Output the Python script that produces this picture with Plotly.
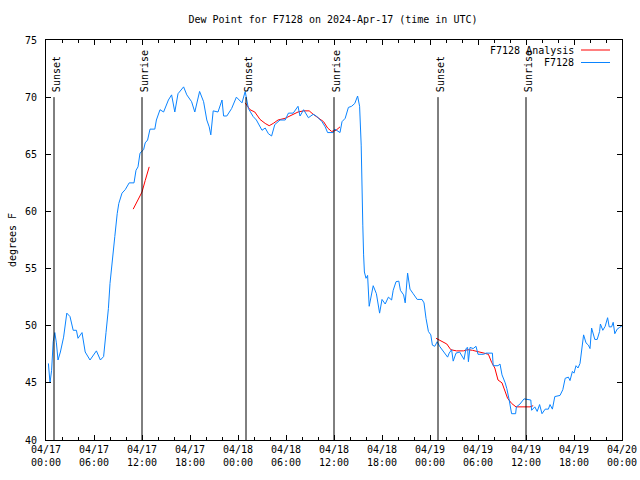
import pandas as pd
import plotly.graph_objects as go

# ---- data ----
base = pd.Timestamp("2024-04-17 00:00")

obs_hours = [0.3, 0.5, 0.7, 0.9, 1.1, 1.3, 1.5, 1.8, 2.2, 2.6, 3.0, 3.4, 3.8, 4.0, 4.5, 4.9, 5.5, 6.3, 6.8, 7.2,
             7.5, 7.8, 8.0, 8.3, 8.6, 8.9, 9.1, 9.5, 9.9, 10.4, 11.0, 11.25, 11.5, 11.75, 12.2, 12.4, 12.7, 13.0,
             13.6, 13.8, 14.25, 14.7, 15.3, 15.7, 16.1, 16.5, 17.2, 17.6, 18.2, 18.6, 19.2, 19.7, 20.1, 20.4,
             20.6, 20.9, 21.5, 22.0, 22.2, 22.6, 23.2, 23.8, 24.5, 24.9, 25.3, 25.9, 26.3, 27.0, 27.4, 27.8,
             28.2, 28.6, 29.25, 29.9, 30.3, 30.9, 31.5, 31.75, 32.2, 32.8, 33.4, 33.8, 34.5, 34.9, 35.2, 35.9,
             36.1, 36.75, 37.0, 37.4, 37.8, 38.2, 38.6, 38.95, 39.2, 39.4, 39.5, 39.6, 39.7, 39.8, 40.0, 40.2,
             40.4, 40.6, 40.9, 41.3, 41.7, 42.0, 42.4, 42.8, 43.2, 43.4, 43.75, 44.1, 44.3, 44.7, 44.9, 45.2,
             45.5, 45.9, 46.4, 47.0, 47.25, 47.5, 47.8, 48.1, 48.3, 48.6, 48.9, 49.2, 49.5, 49.9, 50.2, 50.4,
             50.7, 50.9, 51.25, 51.7, 52.0, 52.25, 52.5, 52.7, 52.8, 53.0, 53.4, 53.75, 54.0, 54.7, 55.0, 55.8,
             55.9, 56.5, 56.75, 57.0, 57.4, 57.6, 57.9, 58.2, 58.7, 58.8, 59.25, 59.75, 60.6, 60.7, 61.1, 61.4,
             61.7, 62.0, 62.4, 62.8, 63.0, 63.3, 63.6, 64.25, 64.6, 64.9, 65.3, 65.5, 65.8, 66.0, 66.25, 66.5,
             66.75, 67.0, 67.2, 67.5, 67.8, 68.0, 68.2, 68.6, 68.9, 69.2, 69.3, 69.6, 69.9, 70.2, 70.4, 70.7,
             70.9, 71.1, 71.4, 71.7, 72.0]
obs_dewpt = [46.7, 45.0, 46.1, 48.6, 49.4, 48.5, 47.0, 47.7, 49.0, 51.1, 50.8, 49.6, 49.6, 48.9, 49.4, 47.7, 47.0,
             47.8, 47.0, 47.3, 49.4, 51.5, 53.7, 56.0, 57.8, 59.8, 60.7, 61.6, 61.9, 62.5, 62.5, 63.6, 63.9,
             65.1, 65.4, 66.0, 66.25, 67.2, 67.2, 68.0, 68.9, 68.7, 69.75, 70.2, 68.7, 70.3, 70.9, 70.2, 69.6,
             68.7, 70.5, 69.6, 68.0, 67.4, 66.7, 68.8, 68.7, 69.75, 68.35, 68.35, 69.0, 70.0, 69.5, 70.5, 69.0,
             68.3, 68.0, 67.1, 67.3, 66.8, 66.6, 67.6, 68.0, 68.0, 68.6, 68.6, 69.2, 68.35, 68.9, 68.2, 68.5,
             68.35, 67.85, 67.4, 66.9, 66.9, 67.2, 66.9, 67.85, 68.15, 69.1, 69.2, 69.45, 70.1, 69.2, 65.8, 61.0,
             58.8, 56.2, 54.7, 54.15, 54.4, 51.7, 52.5, 53.5, 52.8, 51.1, 52.3, 51.9, 52.5, 52.25, 53.1, 53.85,
             53.9, 53.1, 52.7, 52.0, 54.6, 53.2, 52.8, 52.3, 52.3, 52.0, 50.65, 49.5, 49.2, 48.3, 48.2, 48.6,
             48.2, 47.9, 47.6, 47.25, 47.6, 47.9, 46.9, 47.6, 47.7, 47.4, 47.05, 48.0, 48.1, 46.85, 48.1, 48.0,
             48.2, 47.5, 47.5, 47.6, 47.6, 46.5, 46.5, 46.65, 45.7, 45.0, 44.5, 43.5, 42.3, 42.3, 42.9, 43.15,
             43.6, 43.5, 42.6, 42.9, 42.5, 43.1, 42.3, 42.7, 42.7, 43.1, 42.7, 43.8, 43.9, 44.4, 45.4, 45.5,
             45.2, 46.0, 45.85, 46.5, 46.3, 46.7, 48.3, 49.2, 48.5, 48.3, 48.0, 49.8, 48.8, 48.8, 49.5, 50.15,
             49.6, 49.95, 50.7, 49.9, 49.9, 50.3, 49.3, 49.7, 49.85, 50.0]

# analysis segments (None separates segments)
ana_hours = [10.9, 11.5, 12.0, 12.4, 12.9, None,
             24.9, 25.5, 26.1, 26.75, 27.4, 27.9, 28.4, 29.0, 29.9, 30.7, 31.5, 32.2, 32.9, 33.4, 34.0, 34.7,
             35.2, 35.7, 36.25, 36.75, None,
             48.75, 49.5, 50.1, 50.6, 51.3, 52.2, 52.7, 53.3, 54.0, 54.75, 55.3, 55.7, 56.1, 56.5, 57.0, 57.4,
             57.7, 58.2, 58.75, 60.5, 60.9]
ana_dewpt = [60.2, 61.0, 61.7, 62.7, 63.9, None,
             69.5, 68.9, 68.7, 68.05, 67.7, 67.5, 67.7, 68.0, 68.15, 68.4, 68.7, 68.8, 68.8, 68.5, 68.2, 67.85,
             67.3, 67.0, 67.1, 67.4, None,
             48.9, 48.6, 48.4, 47.9, 47.8, 47.8, 47.9, 47.85, 47.7, 47.6, 47.5, 46.8, 46.3, 45.25, 45.0, 44.2,
             43.65, 43.2, 42.9, 42.9, 43.0]

sun_hours = [1.0, 12.0, 25.0, 36.0, 49.0, 60.0]
sun_labels = ["Sunset", "Sunrise", "Sunset", "Sunrise", "Sunset", "Sunrise"]

tick_hours = [0, 6, 12, 18, 24, 30, 36, 42, 48, 54, 60, 66, 72]
tick_labels = ["04/17<br>00:00", "04/17<br>06:00", "04/17<br>12:00", "04/17<br>18:00",
               "04/18<br>00:00", "04/18<br>06:00", "04/18<br>12:00", "04/18<br>18:00",
               "04/19<br>00:00", "04/19<br>06:00", "04/19<br>12:00", "04/19<br>18:00",
               "04/20<br>00:00"]


def to_time(h):
    return None if h is None else base + pd.Timedelta(hours=h)


FONT = "DejaVu Sans Mono"
BLUE = "#0a84ff"
RED = "#ff0000"

fig = go.Figure()
fig.add_trace(go.Scatter(x=[to_time(h) for h in ana_hours], y=ana_dewpt, mode="lines",
                         line=dict(color=RED, width=1), name="F7128 Analysis",
                         connectgaps=False, showlegend=False))
fig.add_trace(go.Scatter(x=[to_time(h) for h in obs_hours], y=obs_dewpt, mode="lines",
                         line=dict(color=BLUE, width=1), name="F7128", showlegend=False))

shapes = []
annotations = []
for h, lab in zip(sun_hours, sun_labels):
    shapes.append(dict(type="line", xref="x", yref="y", x0=to_time(h), x1=to_time(h), y0=40, y1=70,
                       line=dict(color="black", width=1)))
    annotations.append(dict(x=to_time(h), y=70, xref="x", yref="y", text=lab, textangle=-90,
                            showarrow=False, xanchor="center", yanchor="bottom", xshift=2, yshift=3,
                            font=dict(family=FONT, size=10, color="black")))

# custom gnuplot-style legend (text left, sample right)
legend_items = [("F7128 Analysis", RED), ("F7128", BLUE)]
for i, (name, col) in enumerate(legend_items):
    ypos = 1 - (10 + 12.5 * i) / 400.0
    annotations.append(dict(x=(576 - 46) / 576.0, y=ypos, xref="paper", yref="paper", text=name,
                            showarrow=False, xanchor="right", yanchor="middle",
                            font=dict(family=FONT, size=10, color="black")))
    shapes.append(dict(type="line", xref="paper", yref="paper", x0=(581 - 46) / 576.0,
                       x1=(610 - 46) / 576.0, y0=ypos, y1=ypos, line=dict(color=col, width=1)))

fig.update_layout(
    width=640, height=480,
    margin=dict(l=46, r=18, t=40, b=40),
    paper_bgcolor="white", plot_bgcolor="white",
    font=dict(family=FONT, size=10, color="black"),
    title=dict(text="Dew Point for F7128 on 2024-Apr-17 (time in UTC)", x=333 / 640, xanchor="center",
               y=1 - 19 / 480, yanchor="middle", font=dict(family=FONT, size=10)),
    shapes=shapes, annotations=annotations,
    showlegend=False,
)
fig.update_xaxes(
    type="date", range=[to_time(0), to_time(72)], automargin=False,
    tickmode="array", tickvals=[to_time(h) for h in tick_hours], ticktext=tick_labels,
    ticks="inside", ticklen=5, tickcolor="black", tickwidth=1,
    showline=True, linecolor="black", linewidth=1, mirror="ticks",
    showgrid=False, zeroline=False,
    minor=dict(dtick=2 * 3600 * 1000, tick0=to_time(0), ticks="inside", ticklen=3, tickcolor="black",
               showgrid=False),
    tickfont=dict(family=FONT, size=10),
)
fig.update_yaxes(
    range=[40, 75], dtick=5, tick0=40, automargin=False,
    ticks="inside", ticklen=5, tickcolor="black", tickwidth=1,
    showline=True, linecolor="black", linewidth=1, mirror="ticks",
    showgrid=False, zeroline=False,
    ticklabelstandoff=6,
    title=dict(text="degrees F", standoff=6, font=dict(family=FONT, size=10)),
    tickfont=dict(family=FONT, size=10),
)

fig.write_html("out.html")
